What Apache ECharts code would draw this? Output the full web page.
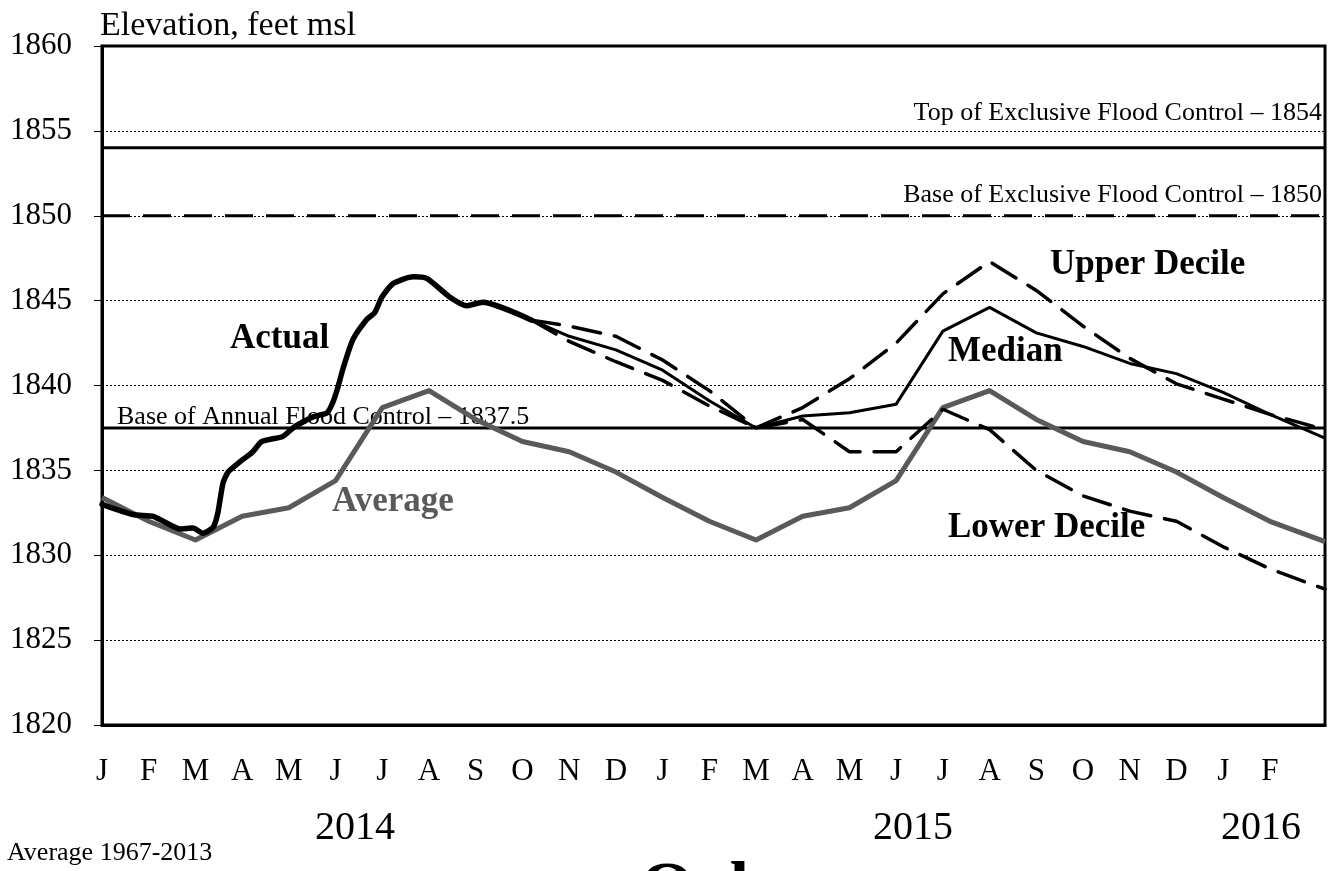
<!DOCTYPE html>
<html>
<head>
<meta charset="utf-8">
<title>Oahe</title>
<script src="https://cdn.jsdelivr.net/npm/echarts@6/dist/echarts.min.js"></script>
<style>
html, body { margin: 0; padding: 0; background: #fff; }
#chartdiv { width: 1338px; height: 871px; }
</style>
</head>
<body>
<div id="chartdiv"></div>
<script>
// month letters, Jan 2014 .. Feb 2016 (x = months since 1 Jan 2014)
var monthLabels = ['J','F','M','A','M','J','J','A','S','O','N','D','J','F','M','A','M','J','J','A','S','O','N','D','J','F'];
var xMax = 26.18;

// average 1967-2013
var averageMonths = [0,1,2,3,4,5,6,7,8,9,10,11,12,13,14,15,16,17,18,19,20,21,22,23,24,25,26.18];
var averageValues = [1833.4,1832.0,1830.9,1832.3,1832.8,1834.4,1838.7,1839.7,1838.0,1836.7,1836.1,1834.9,
                     1833.4,1832.0,1830.9,1832.3,1832.8,1834.4,1838.7,1839.7,1838.0,1836.7,1836.1,1834.9,
                     1833.4,1832.0,1830.8];

// actual elevation 2014
var actualMonths = [0,0.66,1.09,1.31,1.67,1.95,2.16,2.38,2.48,2.59,2.70,2.95,3.23,3.42,3.87,4.09,4.30,4.52,4.82,4.94,5.05,5.16,5.37,5.67,5.84,5.99,6.23,6.66,6.96,7.45,7.81,8.15,9.2];
var actualValues = [1833.0,1832.4,1832.3,1832.0,1831.55,1831.6,1831.3,1831.65,1832.5,1834.25,1834.9,1835.5,1836.1,1836.7,1837.0,1837.5,1837.85,1838.15,1838.4,1839.0,1839.9,1841.0,1842.7,1843.9,1844.3,1845.2,1846.0,1846.4,1846.3,1845.2,1844.7,1844.9,1843.85];

// forecasts
var forecastMonths = [9.2,10,11,12,13,14,15,16,17,18,19,20,21,22,23,24,25,26.18];
var medianValues = [1843.85,1842.9,1842.1,1840.9,1839.1,1837.5,1838.2,1838.4,1838.9,1843.2,1844.6,1843.1,1842.3,1841.3,1840.7,1839.6,1838.3,1836.9];
var upperValues  = [1843.85,1843.5,1842.9,1841.5,1839.7,1837.5,1838.7,1840.4,1842.5,1845.4,1847.3,1845.6,1843.5,1841.6,1840.1,1839.2,1838.3,1837.4];
var lowerValues  = [1843.85,1842.6,1841.4,1840.3,1838.8,1837.5,1838.0,1836.1,1836.1,1838.6,1837.4,1835.0,1833.5,1832.6,1832.0,1830.5,1829.2,1828.0];

// flood control levels
var topExclusive = 1854;
var baseExclusive = 1850;
var baseAnnual = 1837.5;

var yTicks = { min: 1820, max: 1860, step: 5 };

function pairs(xs, ys) {
    var out = [];
    for (var i = 0; i < xs.length; i++) out.push([xs[i], ys[i]]);
    return out;
}

var serif = 'Liberation Serif';

function label(text, x, y, size, opts) {
    opts = opts || {};
    return {
        type: 'text', x: x, y: y, z: 0,
        style: {
            text: text,
            font: (opts.bold ? 'bold ' : '') + size + 'px "' + serif + '"',
            fill: opts.color || '#000',
            textAlign: opts.align || 'left',
            textVerticalAlign: opts.valign || 'middle'
        }
    };
}

var chart = echarts.init(document.getElementById('chartdiv'));

chart.setOption({
    animation: false,
    backgroundColor: '#fff',
    grid: { left: 102, right: 13, top: 46, bottom: 146, show: true, borderColor: '#000', borderWidth: 3 },
    xAxis: {
        type: 'value', min: 0, max: xMax, interval: 1,
        axisLine: { show: true, lineStyle: { color: '#000', width: 3 } },
        axisTick: { show: false },
        splitLine: { show: false },
        axisLabel: {
            margin: 31, fontSize: 31, color: '#000', fontFamily: serif,
            formatter: function (v) {
                var i = Math.round(v);
                return (Math.abs(v - i) < 1e-6 && i < monthLabels.length) ? monthLabels[i] : '';
            }
        }
    },
    yAxis: {
        type: 'value', min: yTicks.min, max: yTicks.max, interval: yTicks.step,
        axisLine: { show: true, lineStyle: { color: '#000', width: 3 } },
        axisTick: { show: true, length: 8, lineStyle: { color: '#000', width: 1 } },
        splitLine: { show: true, lineStyle: { color: '#000', width: 1, type: [2, 2] } },
        axisLabel: {
            margin: 30, fontSize: 31, color: '#000', fontFamily: serif,
            formatter: function (v) { return String(v); }
        }
    },
    graphic: [
        label('Elevation, feet msl', 100, 26, 34),
        label('Top of Exclusive Flood Control \u2013 1854', 1322, 113, 26, { align: 'right' }),
        label('Base of Exclusive Flood Control \u2013 1850', 1322, 195, 26, { align: 'right' }),
        label('Base of Annual Flood Control \u2013 1837.5', 117, 417, 26),
        label('Actual', 230, 339, 35, { bold: true }),
        label('Average', 332, 502, 35, { bold: true, color: '#5a5a5a' }),
        label('Upper Decile', 1050, 265, 35, { bold: true }),
        label('Median', 948, 352, 35, { bold: true }),
        label('Lower Decile', 948, 528, 35, { bold: true }),
        label('2014', 355, 828, 40, { align: 'center' }),
        label('2015', 913, 828, 40, { align: 'center' }),
        label('2016', 1261, 828, 40, { align: 'center' }),
        label('Average 1967-2013', 7, 853, 26),
        label('Oahe', 640, 857, 70, { bold: true, valign: 'top' })
    ],
    series: [
        {
            name: 'Top of Exclusive Flood Control', type: 'line', symbol: 'none', z: 2,
            data: [[0, topExclusive], [xMax, topExclusive]],
            lineStyle: { color: '#000', width: 3 }
        },
        {
            name: 'Base of Exclusive Flood Control', type: 'line', symbol: 'none', z: 2,
            data: [[0, baseExclusive], [xMax, baseExclusive]],
            lineStyle: { color: '#000', width: 3, type: [28, 13] }
        },
        {
            name: 'Base of Annual Flood Control', type: 'line', symbol: 'none', z: 2,
            data: [[0, baseAnnual], [xMax, baseAnnual]],
            lineStyle: { color: '#000', width: 3 }
        },
        {
            name: 'Average', type: 'line', symbol: 'none', z: 3,
            data: pairs(averageMonths, averageValues),
            lineStyle: { color: '#5a5a5a', width: 5, join: 'round' }
        },
        {
            name: 'Upper Decile', type: 'line', symbol: 'none', z: 4,
            data: pairs(forecastMonths, upperValues),
            lineStyle: { color: '#000', width: 3.5, type: [28, 14], cap: 'round' }
        },
        {
            name: 'Lower Decile', type: 'line', symbol: 'none', z: 4,
            data: pairs(forecastMonths, lowerValues),
            lineStyle: { color: '#000', width: 3.5, type: [28, 14], cap: 'round' }
        },
        {
            name: 'Median', type: 'line', symbol: 'none', z: 4,
            data: pairs(forecastMonths, medianValues),
            lineStyle: { color: '#000', width: 3, join: 'round' }
        },
        {
            name: 'Actual', type: 'line', symbol: 'none', z: 5, smooth: 0.2,
            data: pairs(actualMonths, actualValues),
            lineStyle: { color: '#000', width: 5.5, join: 'round', cap: 'round' }
        }
    ]
});
</script>
</body>
</html>
